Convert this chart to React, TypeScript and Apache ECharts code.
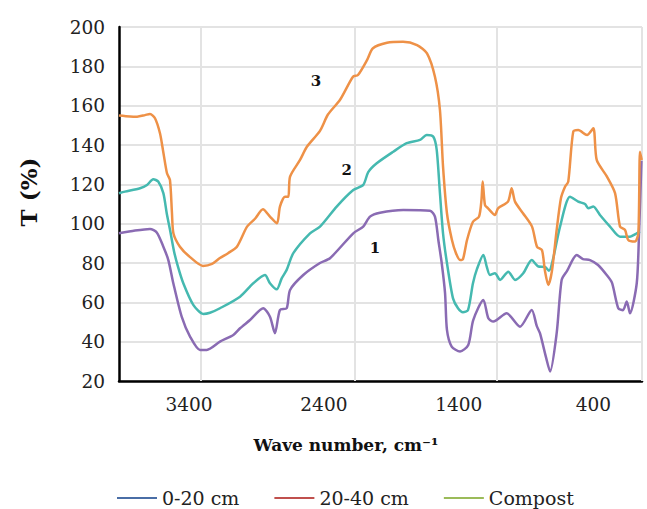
import React, { useEffect, useRef } from 'react';
import * as echarts from 'echarts';

// ---- Data (wave number in cm-1, transmittance T in %) ----
const soilTopWave = [3920,3801,3690,3640,3591,3554,3517,3455,3393,3319,3269,3171,3072,3022,2948,2850,2800,2763,2726,2676,2651,2553,2429,2355,2182,2108,2058,1984,1811,1613,1576,1551,1526,1501,1487,1452,1390,1329,1292,1217,1180,1143,1044,945,858,821,797,752,722,673,636,596,524,478,426,366,302,263,216,181,153,129,79,62,44];
const soilTopT = [95.1,96.5,97.3,95.5,88.3,81.5,69.7,52.7,42.6,35.8,35.8,40,43.4,46.8,51,57,52.7,44.3,56.1,57,66.3,73.9,80,82.4,95.1,98.5,103.6,105.6,107,106.6,103.6,91.7,80,64.6,46,37.5,35,38.3,51,61.2,51.9,50.2,54.4,47.6,56.1,48,44.3,32,24.8,44.3,71.4,76,84.1,82,81.5,79,73.9,70,57,56,60.4,54.4,69.7,95,132];

const soilSubWave = [3920,3876,3764,3712,3666,3629,3591,3566,3542,3512,3482,3443,3369,3295,3245,3171,3022,2924,2837,2800,2750,2713,2676,2627,2503,2429,2305,2182,2108,2071,2008,1885,1786,1687,1637,1588,1563,1539,1516,1487,1442,1405,1368,1331,1294,1264,1217,1192,1168,1131,1093,1032,982,921,858,809,760,730,700,648,574,513,463,438,401,352,277,203,129,79,55];
const soilSubT = [115.5,116.3,118,119.7,122.6,121.4,115.5,105.3,97,86,78,69.7,58.7,54.1,54.7,57,62.9,69.7,73.9,69.7,66.6,72.2,76.5,85,95.1,98.5,108.7,117.1,119.7,126.2,130.7,136.6,140.9,142.6,145.1,144.2,137.5,115.5,95,80,62,57,55,56,69.7,77,84.1,78.2,73.9,74.8,71.4,75.6,71.4,74.8,81.5,78.2,78,76,82,98.5,113.7,111.2,110,107.8,108.7,104.4,98.5,93.4,93.4,95.1,96];

const compostWave = [3920,3838,3786,3727,3690,3653,3616,3594,3564,3542,3527,3516,3468,3393,3297,3230,3171,3111,3045,2970,2911,2852,2800,2748,2726,2689,2664,2651,2577,2525,2429,2370,2280,2184,2147,2080,2036,1932,1813,1709,1635,1576,1539,1516,1487,1450,1420,1390,1368,1338,1294,1249,1231,1222,1205,1182,1131,1108,1034,1007,982,923,856,819,782,760,735,708,673,641,611,587,550,513,448,401,376,300,240,203,166,142,92,67,55,42];
const compostT = [155,154.5,154.4,155.2,155.8,153.6,146,137.5,125.6,122.2,105.3,95,88.3,83,78.5,79.5,82.5,85,88.3,98.5,102.5,107.3,103.6,100.2,108.7,113.7,113.7,123.9,132.4,139.2,147.2,155.5,163,174.7,175.6,183.2,189.2,192,192.5,190.8,186.6,174.7,157.8,129,105.3,91.7,85,81.5,82,91.7,101,103.6,112,121.4,109.5,107.8,104.4,107.8,111.2,118,111.2,105.3,98.5,88.3,86.5,76,68.8,76,96.8,113,118.8,121.4,146.8,147.6,145.1,148.5,132.4,123.9,115.5,98.5,96.8,91.7,90.9,95.1,136.6,132.4];

const seriesNames = ['0-20 cm', '20-40 cm', 'Compost'];
const curveColors = ['#8a6bb3', '#45b9b0', '#ee9147'];
const legendColors = ['#4a6ea6', '#c0504d', '#9bbb59'];
const curveNumbers = ['1', '2', '3'];
const curveNumberWave = [2021, 2231, 2458];
const curveNumberT = [87.6, 127.3, 172.6];

const xTickLabels = [400, 1400, 2400, 3400];
const xGridLines = [3314, 2169, 1118, 40];

const xTitle = 'Wave number, cm\u207B\u00B9';
const yTitle = 'T (%)';

const SERIF = '"DejaVu Serif", serif';

const zip = (w: number[], t: number[]) => w.map((x, i) => [x, t[i]]);
const waves = [soilTopWave, soilSubWave, compostWave];
const values = [soilTopT, soilSubT, compostT];

export default function App() {
  const ref = useRef<HTMLDivElement>(null);
  useEffect(() => {
    document.body.style.margin = '0';
    const chart = echarts.init(ref.current!, null, { renderer: 'svg' });
    const series: any[] = seriesNames.map((name, i) => ({
      name,
      type: 'line',
      data: zip(waves[i], values[i]),
      symbol: 'none',
      smooth: 0.25,
      z: 3,
      lineStyle: { color: curveColors[i], width: 2.5 },
      itemStyle: { color: curveColors[i] },
      markPoint: {
        symbol: 'circle',
        symbolSize: 1,
        silent: true,
        itemStyle: { color: 'rgba(0,0,0,0)' },
        label: {
          show: true,
          position: 'inside',
          formatter: curveNumbers[i],
          fontFamily: SERIF,
          fontWeight: 'bold',
          fontSize: 15,
          color: '#111',
        },
        data: [{ coord: [curveNumberWave[i], curveNumberT[i]] }],
      },
      ...(i === 0
        ? {
            markLine: {
              z: 1,
              silent: true,
              symbol: ['none', 'none'],
              label: { show: false },
              lineStyle: { color: '#e3e3e3', width: 2, type: 'solid' },
              data: xGridLines.map((v) => ({ xAxis: v })),
            },
          }
        : {}),
    }));

    chart.setOption({
      animation: false,
      backgroundColor: '#ffffff',
      grid: { left: 119, right: 5, top: 27, bottom: 128, containLabel: false },
      xAxis: {
        type: 'value',
        inverse: true,
        min: 40,
        max: 3920,
        axisLine: { show: true, onZero: false, lineStyle: { color: '#000', width: 2.5 } },
        axisTick: { show: false },
        splitLine: { show: false },
        axisLabel: {
          customValues: xTickLabels,
          formatter: (v: number) => String(v),
          margin: 14,
          fontSize: 18.5,
          fontFamily: SERIF,
          color: '#222',
        },
      },
      yAxis: {
        type: 'value',
        min: 20,
        max: 200,
        interval: 20,
        axisLine: { show: true, onZero: false, lineStyle: { color: '#000', width: 2.5 } },
        axisTick: { show: false },
        splitLine: { show: true, lineStyle: { color: '#e3e3e3', width: 2 } },
        axisLabel: { margin: 14, fontSize: 18.5, fontFamily: SERIF, color: '#222' },
      },
      legend: {
        left: 117,
        top: 487,
        itemWidth: 40,
        itemHeight: 2,
        itemGap: 35,
        padding: 0,
        selectedMode: false,
        textStyle: { fontFamily: SERIF, fontSize: 19, color: '#222', lineHeight: 22 },
        data: seriesNames.map((n, i) => ({
          name: n,
          icon: 'rect',
          itemStyle: { color: legendColors[i] },
        })),
      },
      graphic: [
        {
          type: 'text',
          x: 346,
          y: 445,
          style: {
            text: xTitle,
            fontFamily: SERIF,
            fontSize: 17,
            fontWeight: 'bold',
            fill: '#111',
            textAlign: 'center',
            textVerticalAlign: 'middle',
          },
        },
        {
          type: 'text',
          x: 28,
          y: 192,
          rotation: Math.PI / 2,
          style: {
            text: yTitle,
            fontFamily: SERIF,
            fontSize: 23,
            fontWeight: 'bold',
            fill: '#111',
            textAlign: 'center',
            textVerticalAlign: 'middle',
          },
        },
      ],
      series,
    });
    return () => chart.dispose();
  }, []);
  return <div ref={ref} style={{ width: 647, height: 509 }} />;
}
